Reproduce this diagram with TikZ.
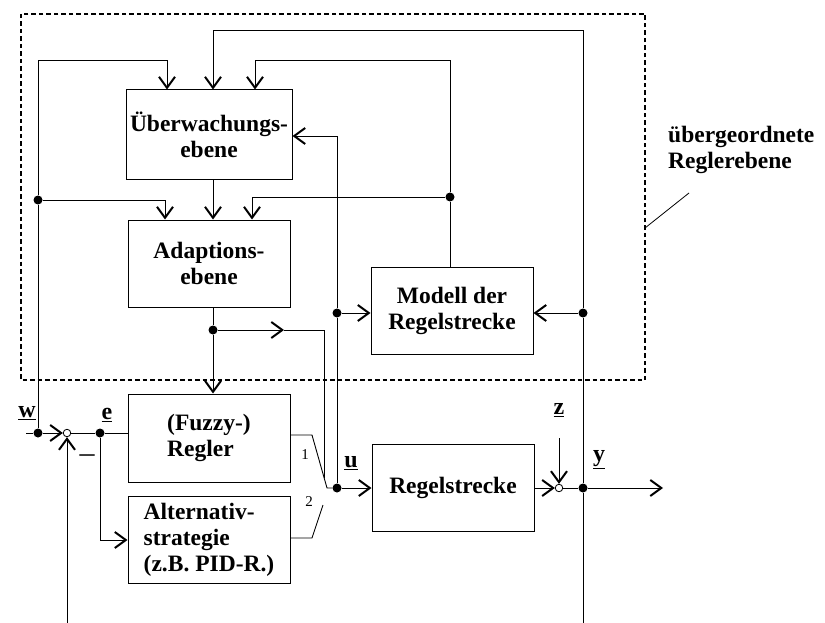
\documentclass[tikz,border=0pt]{standalone}
\usepackage{fontspec}
\setmainfont{Liberation Serif}
\usetikzlibrary{arrows.meta,calc}
\begin{document}
\begin{tikzpicture}[x=1pt,y=-1pt,
  every node/.style={font=\fontsize{23.5}{26}\selectfont\bfseries},
  blk/.style={draw,line width=1pt,minimum width=162pt,minimum height=87pt,inner sep=0pt,align=center},
  ln/.style={line width=0.9pt},
  arr/.style={ln,-{Straight Barb[length=11pt,width=16pt,line width=2pt]}},
  dot/.style={circle,fill,inner sep=0pt,minimum size=9pt},
  sumc/.style={circle,draw,fill=white,inner sep=0pt,minimum size=7.5pt,line width=0.8pt},
  lab/.style={font=\fontsize{24}{24}\selectfont\bfseries,inner sep=1pt},
  num/.style={font=\fontsize{15}{15}\selectfont,inner sep=0pt}]
\useasboundingbox (0,0) rectangle (825,623);

% dashed frame and its label
\draw[line width=1.5pt,dash pattern=on 4.5pt off 3pt] (21,14) rectangle (645,380);
\coordinate (ld1) at (645,228);
\coordinate (ld2) at (689,193);
\draw[line width=0.8pt] (ld1) -- (ld2);
\node[anchor=west,align=left,inner sep=0pt] (lbl) at (668,150) {übergeordnete\\Reglerebene};

% blocks
\node[blk,minimum width=166pt,minimum height=90pt] (ueb) at (209,135) {Überwachungs-\\ebene};
\node[blk] (ada) at (209,263.5) {Adaptions-\\ebene};
\node[blk] (mod) at (452,310.5) {Modell der\\Regelstrecke};
\node[blk,minimum height=88pt,align=left] (fuz) at (209,438) {(Fuzzy-)\\Regler};
\node[blk,align=left] (alt) at (209,540) {Alternativ-\\strategie\\(z.B. PID-R.)};
\node[blk] (reg) at (453,488) {Regelstrecke};

% top loop from y
\coordinate (ybot) at (583,623);
\coordinate (t1) at (583,30);
\node[dot] (dY) at (583,488) {};
\node[dot] (dM) at (583,313) {};
\draw[ln] (dY) -- (ybot);
\draw[ln] (dY) -- (dM);
\draw[arr] (dM) -- (t1) -| ([xshift=4pt]ueb.north);
\draw[arr] (dM) -- (mod.east |- dM);

% model output loop
\coordinate (c2) at (450,60);
\node[dot] (dR) at (450,197) {};
\draw[ln] (mod.north -| dR) -- (dR);
\draw[arr] (dR) -- (c2) -| ([xshift=46pt]ueb.north);
\draw[arr] (dR) -| ([xshift=43pt]ada.north);

% w loop
\coordinate (cL) at (38,60);
\node[dot] (dL) at (38,200) {};
\node[dot] (dW) at (38,433) {};
\draw[ln] (dW) -- (dL);
\draw[arr] (dL) -- (cL) -| ([xshift=-42pt]ueb.north);
\draw[arr] (dL) -| ([xshift=-44pt]ada.north);

% vertical chain
\draw[arr] ([xshift=4pt]ueb.south) -- ([xshift=4pt]ada.north);
\node[dot] (dA) at (213,330) {};
\draw[ln] ([xshift=4pt]ada.south) -- (dA);
\draw[arr] (dA) -- (fuz.north -| dA);

% adaption to switch
\coordinate (mA) at (284,330);
\coordinate (cA) at (324,330);
\coordinate (cA2) at (324,478);
\draw[arr] (dA) -- (mA);
\draw[ln] (mA) -- (cA) -- (cA2);

% switch
\coordinate (s1) at (312,435);
\coordinate (s1b) at (327,488);
\node[dot] (dU) at (337,488) {};
\draw[ln] (fuz.east |- s1) -- (s1) -- (s1b) -- (dU);
\draw[arr] (dU) -- (reg.west);
\coordinate (s2) at (312,538);
\coordinate (s2b) at (323,505);
\draw[ln] (alt.east |- s2) -- (s2) -- (s2b);
\node[num] (n1) at (305,455) {1};
\node[num] (n2) at (309,502) {2};

% u feedback
\node[dot] (dU2) at (337,313) {};
\coordinate (cU) at (337,136);
\draw[ln] (dU) -- (dU2);
\draw[arr] (dU2) -- (cU) -- (ueb.east |- cU);
\draw[arr] (dU2) -- (mod.west |- dU2);

% input side
\coordinate (wIn) at (26,433);
\node[sumc] (sa) at (67,433) {};
\node[dot] (dE) at (100,433) {};
\draw[ln] (wIn) -- (dW);
\draw[arr] (dW) -- (sa);
\coordinate (fb) at (67,623);
\draw[arr] (fb) -- (sa);
\draw[ln] (sa) -- (dE) -- (fuz.west |- dE);
\draw[arr] (dE) |- (alt.west);

% output side
\node[sumc] (sb) at (559,488) {};
\draw[arr] (reg.east) -- (sb);
\coordinate (zIn) at (559,438);
\draw[arr] (zIn) -- (sb);
\draw[ln] (sb) -- (dY);
\coordinate (yOut) at (663,488);
\draw[arr] (dY) -- (yOut);

% labels
\node[lab] (lw) at (27,413) {\underline{w}};
\node[lab] (le) at (107,415) {\underline{e}};
\node[lab] (lu) at (351,463) {\underline{u}};
\node[lab] (lz) at (559,410) {\underline{z}};
\node[lab] (ly) at (599,460) {\underline{y}};
\node[font=\fontsize{30}{30}\selectfont,inner sep=0pt] (minus) at (87,459) {–};
\end{tikzpicture}
\end{document}
